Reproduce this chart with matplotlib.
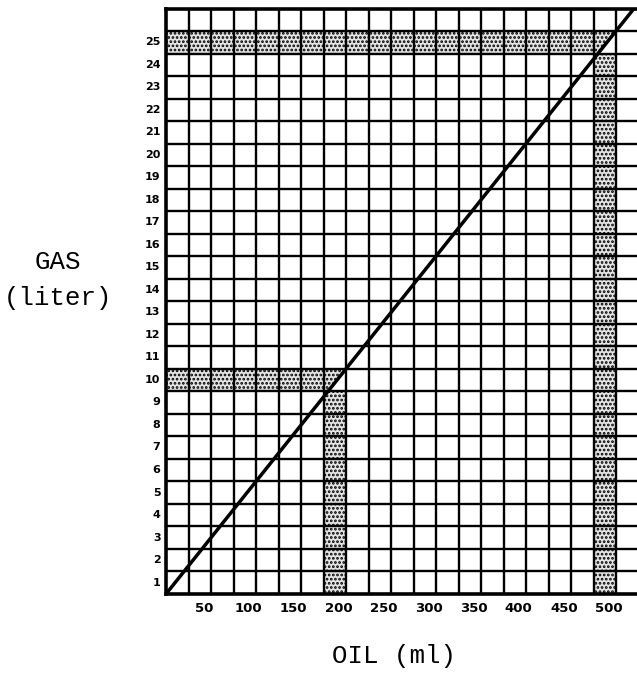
import numpy as np
import matplotlib
matplotlib.use("Agg")
from matplotlib import pyplot as plt

# chart values
oil_ticks = [50, 100, 150, 200, 250, 300, 350, 400, 450, 500]   # ml
gas_ticks = list(range(1, 26))                                   # liter
oil_step = 25      # ml per grid column
gas_step = 1       # liter per grid row
oil_max = 525
gas_max = 26
# mixing ratio 1:20 -> diagonal line
oil_line = [0, 520]
gas_line = [0, 26]
# highlighted examples (oil ml, gas liter)
oil_marked = [200, 500]
gas_marked = [10, 25]

plt.rcParams.update({"font.family": "DejaVu Sans",
                     "hatch.linewidth": 1.3})

fig = plt.figure(figsize=(6.37, 6.73), dpi=100)
ax = fig.add_axes([166 / 637, 79 / 673, 472.5 / 637, 585.5 / 673])
ax.set_xlim(0, oil_max)
ax.set_ylim(0, gas_max)

ratio = gas_line[1] / oil_line[1]

hatch_kw = dict(facecolor="#e4e4e4", edgecolor="black", linewidth=0,
                hatch="....", zorder=1)
for oil, gas in zip(oil_marked, gas_marked):
    x0 = oil - oil_step
    y0 = gas - gas_step
    # row band left of the marked column
    ax.fill([0, x0, x0, 0], [y0, y0, gas, gas], **hatch_kw)
    # column band below the marked row
    ax.fill([x0, oil, oil, x0], [0, 0, y0, y0], **hatch_kw)
    # crossing cell, only the part above the diagonal
    xc = y0 / ratio
    ax.fill([x0, xc, oil, x0], [y0, y0, gas, gas], **hatch_kw)

# grid
ax.vlines(np.arange(oil_step, oil_max, oil_step), 0, gas_max,
          color="black", linewidth=1.7, zorder=2)
ax.hlines(np.arange(gas_step, gas_max, gas_step), 0, oil_max,
          color="black", linewidth=1.7, zorder=2)

# ratio line
ax.plot(oil_line, gas_line, color="black", linewidth=2.5,
        solid_capstyle="butt", zorder=3, clip_on=True)

for s in ax.spines.values():
    s.set_linewidth(2.6)
    s.set_zorder(4)

# tick labels sit in the cell centres
ax.set_xticks([v - 8 for v in oil_ticks])
ax.set_xticklabels([str(v) for v in oil_ticks], fontsize=9.5,
                   fontweight="bold")
ax.set_yticks([v - 0.45 for v in gas_ticks])
ax.set_yticklabels([str(v) for v in gas_ticks], fontsize=8,
                   fontweight="bold")
ax.tick_params(axis="x", length=0, pad=6)
ax.tick_params(axis="y", length=0, pad=4)

mono = ["Liberation Mono", "DejaVu Sans Mono"]
fig.text(58 / 637, 1 - 262 / 673, "GAS", family=mono, fontsize=18.5,
         ha="center", va="center")
fig.text(58 / 637, 1 - 298 / 673, "(liter)", family=mono, fontsize=18.5,
         ha="center", va="center")
fig.text(394 / 637, 1 - 656 / 673, "OIL (ml)", family=mono, fontsize=18.5,
         ha="center", va="center")

plt.savefig("out.png", dpi=100)
